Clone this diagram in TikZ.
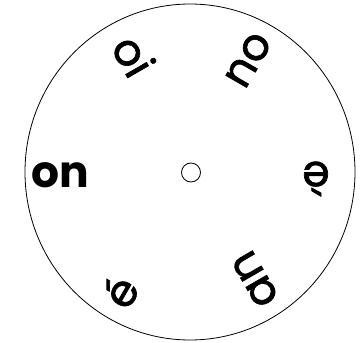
\documentclass[tikz,border=0pt]{standalone}
\usepackage{fontspec}
\setmainfont{Poppins}
\newfontfamily\medfont[FakeBold=1.5]{Poppins}
\usetikzlibrary{shapes.geometric}
\begin{document}
\begin{tikzpicture}[x=1pt,y=-1pt,
  lbl/.style={font=\medfont\fontsize{44}{48}\selectfont, inner sep=0pt, text height=24pt, text depth=0pt, anchor=center},
  ring/.style={draw=black, line width=0.8pt, ellipse, inner sep=0pt}]
\useasboundingbox (0,0) rectangle (360,343);
\fill[white] (0,0) rectangle (360,343);
\node[ring, minimum width=330pt, minimum height=336pt] (wheel) at (190,172) {};
\node[ring, minimum width=19pt, minimum height=19pt] (hub) at (191,172.5) {};
\node[lbl, font=\rmfamily\fontsize{44}{48}\selectfont\bfseries] (on) at (60,175) {on};
\node[lbl, rotate=-60] (oi) at (130,58) {oi};
\node[lbl, rotate=-120] (ou) at (248.5,60) {ou};
\node[lbl, rotate=180] (egrave) at (316,174) {è};
\node[lbl, rotate=120] (an) at (255,279) {an};
\node[lbl, rotate=60] (eacute) at (124,294) {é};
\end{tikzpicture}
\end{document}
